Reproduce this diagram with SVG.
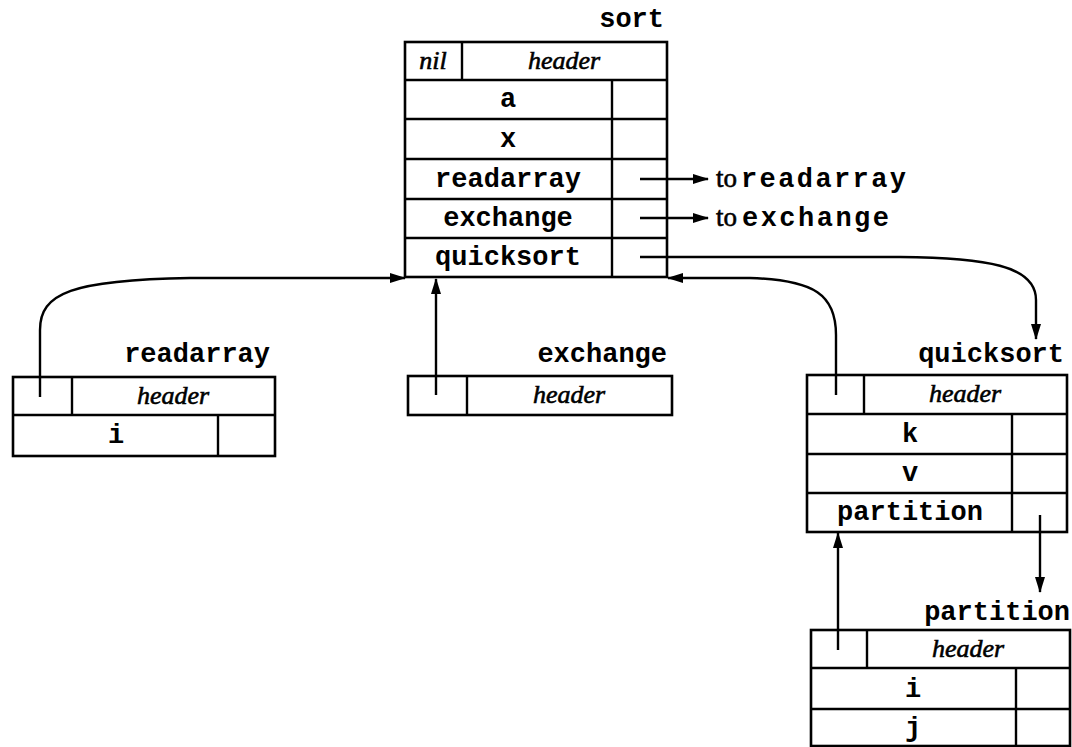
<svg xmlns="http://www.w3.org/2000/svg" width="1072" height="747" viewBox="0 0 1072 747">
<defs>
<style>
.box{fill:#fff;stroke:#000;stroke-width:2.6}
.ln{fill:none;stroke:#000;stroke-width:2.4}
.mono{font-family:"Liberation Mono","DejaVu Sans Mono",monospace;font-size:27px;font-weight:bold;fill:#000}
.ital{font-family:"Liberation Serif","Times New Roman",serif;font-style:italic;font-size:26px;fill:#000;stroke:#000;stroke-width:0.6}
.ser{font-family:"Liberation Serif","Times New Roman",serif;font-size:27px;fill:#000;stroke:#000;stroke-width:0.6}
.c{text-anchor:middle}
.r{text-anchor:end}
.con{fill:none;stroke:#000;stroke-width:2.4;marker-end:url(#ah)}
</style>
<marker id="ah" viewBox="0 0 16 10" refX="15" refY="5" markerWidth="16" markerHeight="10" markerUnits="userSpaceOnUse" orient="auto">
<path d="M0,0 L16,5 L0,10 Z" fill="#000"/>
</marker>
</defs>
<rect width="1072" height="747" fill="#fff"/>

<g id="sort">
<text class="mono r" x="664" y="27">sort</text>
<rect class="box" x="405" y="42" width="262" height="235"/>
<line class="ln" x1="462" y1="42" x2="462" y2="80"/>
<line class="ln" x1="405" y1="80" x2="667" y2="80"/>
<line class="ln" x1="405" y1="119" x2="667" y2="119"/>
<line class="ln" x1="405" y1="159" x2="667" y2="159"/>
<line class="ln" x1="405" y1="199" x2="667" y2="199"/>
<line class="ln" x1="405" y1="238" x2="667" y2="238"/>
<line class="ln" x1="612" y1="80" x2="612" y2="277"/>
<text class="ital c" x="433" y="69">nil</text>
<text class="ital c" x="564" y="69">header</text>
<text class="mono c" x="508" y="107">a</text>
<text class="mono c" x="508" y="147">x</text>
<text class="mono c" x="508" y="187">readarray</text>
<text class="mono c" x="508" y="226">exchange</text>
<text class="mono c" x="508" y="265">quicksort</text>
</g>

<g id="readarray">
<text class="mono r" x="270" y="362">readarray</text>
<rect class="box" x="13" y="377" width="262" height="79"/>
<line class="ln" x1="72" y1="377" x2="72" y2="415"/>
<line class="ln" x1="13" y1="415" x2="275" y2="415"/>
<line class="ln" x1="218" y1="415" x2="218" y2="456"/>
<text class="ital c" x="173" y="404">header</text>
<text class="mono c" x="116" y="443">i</text>
</g>

<g id="exchange">
<text class="mono r" x="667" y="362">exchange</text>
<rect class="box" x="408" y="376" width="264" height="39"/>
<line class="ln" x1="467" y1="376" x2="467" y2="415"/>
<text class="ital c" x="569" y="403">header</text>
</g>

<g id="quicksort">
<text class="mono r" x="1064" y="362">quicksort</text>
<rect class="box" x="807" y="375" width="260" height="157"/>
<line class="ln" x1="864" y1="375" x2="864" y2="414"/>
<line class="ln" x1="807" y1="414" x2="1067" y2="414"/>
<line class="ln" x1="807" y1="454" x2="1067" y2="454"/>
<line class="ln" x1="807" y1="493" x2="1067" y2="493"/>
<line class="ln" x1="1012" y1="414" x2="1012" y2="532"/>
<text class="ital c" x="965" y="402">header</text>
<text class="mono c" x="910" y="442">k</text>
<text class="mono c" x="910" y="481">v</text>
<text class="mono c" x="910" y="520">partition</text>
</g>

<g id="partition">
<text class="mono r" x="1070" y="620">partition</text>
<rect class="box" x="811" y="630" width="259" height="116"/>
<line class="ln" x1="867" y1="630" x2="867" y2="668"/>
<line class="ln" x1="811" y1="668" x2="1070" y2="668"/>
<line class="ln" x1="811" y1="709" x2="1070" y2="709"/>
<line class="ln" x1="1016" y1="668" x2="1016" y2="746"/>
<text class="ital c" x="968" y="657">header</text>
<text class="mono c" x="913" y="697">i</text>
<text class="mono c" x="913" y="736">j</text>
</g>

<g id="connectors">
<path class="con" d="M640,179 H708"/>
<path class="con" d="M640,218 H708"/>
<path class="con" d="M640,257 H900 C985,258 1036,265 1036,300 V339"/>
<path class="con" d="M40,397 V330 C40,293 72,280 190,278 H405"/>
<path class="con" d="M436,395 V279"/>
<path class="con" d="M836,395 V335 C836,295 815,280 750,278 H668"/>
<path class="con" d="M1040,515 V592"/>
<path class="con" d="M838,650 V533"/>
</g>

<g id="labels">
<text x="716" y="187"><tspan class="ser">to</tspan><tspan class="mono" x="741" textLength="165" lengthAdjust="spacing">readarray</tspan></text>
<text x="716" y="226"><tspan class="ser">to</tspan><tspan class="mono" x="742" textLength="147" lengthAdjust="spacing">exchange</tspan></text>
</g>
</svg>
